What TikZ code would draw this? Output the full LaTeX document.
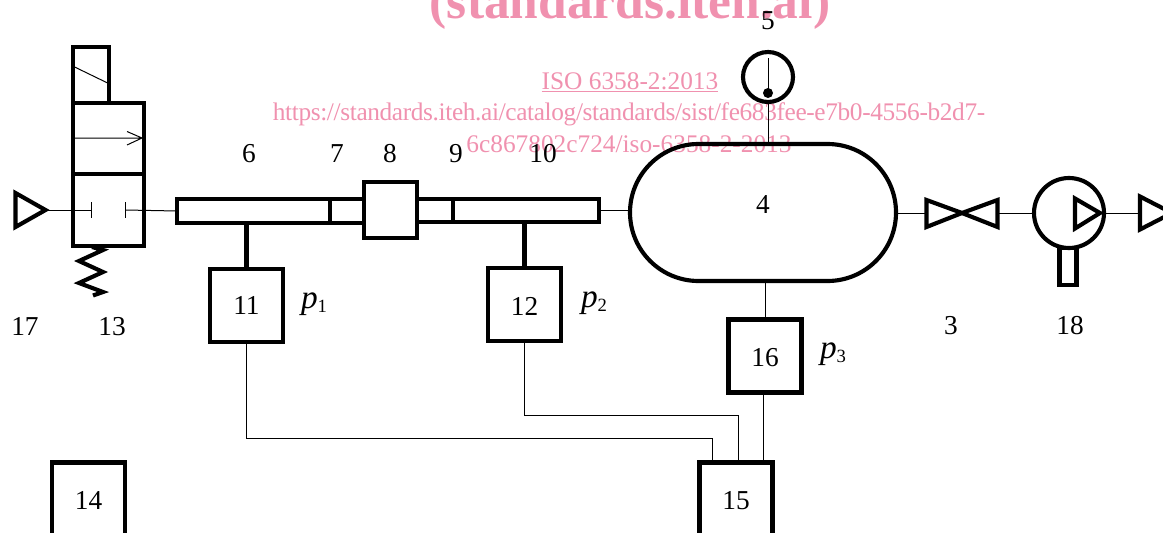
\documentclass[tikz,border=0pt]{standalone}
\usepackage{fontspec}
\usetikzlibrary{shapes.misc}
\setmainfont{Liberation Serif}
\newfontfamily\wmfont{Liberation Serif}
\newfontfamily\wmtight[LetterSpace=-1.45]{Liberation Serif}
\definecolor{wmpink}{RGB}{240,145,175}
\newcommand{\numat}[2]{\raisebox{-#1pt}[0pt][0pt]{#2}}
\newcommand{\plabel}[1]{{\fontsize{25}{25}\selectfont\itshape p}\raisebox{-3.5pt}{\fontsize{14}{14}\selectfont #1}}
\tikzset{
  heavy/.style={line width=3.1pt,line join=miter},
  thin line/.style={line width=0.75pt},
  numbox/.style={draw,heavy,rectangle,inner sep=0pt,outer sep=0pt,minimum width=73*0.75pt,minimum height=73*0.75pt,font=\fontsize{20.5}{21}\selectfont},
  tube/.style={draw,heavy,rectangle,inner sep=0pt,outer sep=0pt},
  lbl/.style={anchor=base,inner sep=0pt,font=\fontsize{20.5}{21}\selectfont},
  plbl/.style={anchor=base,inner sep=0pt},
  wm/.style={anchor=base,inner sep=0pt,text=wmpink,font=\wmfont\fontsize{19}{19}\selectfont},
}
\begin{document}
\begin{tikzpicture}[x=0.75pt,y=-0.75pt]
\useasboundingbox (0,0) rectangle (1163,532);
\clip (0,0) rectangle (1163,532);
% watermark
\node[wm,font=\wmfont\bfseries\fontsize{38.6}{38.6}\selectfont] (wmA) at (630,18) {(standards.iteh.ai)};
\node[wm] (wmB) at (630,89) {\underline{ISO 6358-2:2013}};
\node[wm,font=\wmtight\fontsize{19}{19}\selectfont] (wmC) at (629,120.5) {https://standards.iteh.ai/catalog/standards/sist/fe683fee-e7b0-4556-b2d7-};
\node[wm] (wmD) at (629,152.5) {6c867802c724/iso-6358-2-2013};
% solenoid valve
\node[tube,minimum width=36*0.75pt,minimum height=56*0.75pt] (sol) at (91,75) {};
\node[tube,minimum width=71*0.75pt,minimum height=71*0.75pt] (vup) at (108.5,138.5) {};
\node[tube,minimum width=71*0.75pt,minimum height=72*0.75pt] (vlo) at (108.5,210) {};
\draw[thin line] (74,66.7) -- (107,82.7);
\draw[thin line] (74,138) -- (142,138) (127,131.5) -- (142,138) -- (127,145);
\draw[heavy] (92,247) -- (103,250) -- (79,261) -- (103,272) -- (79,283) -- (103,292) -- (93,295.5);
% inlet
\draw[heavy] (15.5,193) -- (15.5,227) -- (45.5,210) -- cycle;
\coordinate (inL) at (48,210);
\coordinate (stopL) at (91,210);
\coordinate (stopR) at (125.5,210);
\draw[thin line] (inL) -- (stopL) (91,202) -- (91,218);
\draw[thin line] (125.5,202) -- (125.5,218);
% tubes and silencer
\node[tube,minimum width=187*0.75pt,minimum height=24*0.75pt] (t1) at (270.5,211) {};
\node[tube,minimum width=53*0.75pt,minimum height=56*0.75pt] (b8) at (390.5,210) {};
\node[tube,minimum width=182*0.75pt,minimum height=23*0.75pt] (t2) at (508,210.5) {};
\draw[heavy] (330,199) -- (330,223);
\draw[heavy] (453,199) -- (453,222);
\draw[thin line] (stopR) -- (t1.west);
% tank and gauge
\node[draw,heavy,rounded rectangle,rounded rectangle arc length=180,inner sep=0pt,outer sep=0pt,minimum width=266*0.75pt,minimum height=137*0.75pt,font=\fontsize{20.5}{21}\selectfont] (tank) at (763,212.5) {\numat{1.1}{4}};
\draw[thin line] (t2.east) -- (tank.west |- t2.east);
\node[draw,heavy,circle,inner sep=0pt,outer sep=0pt,minimum size=50*0.75pt] (gauge) at (768,77) {};
\draw[thin line] (768,58) -- (768,93);
\fill (768,93) circle[radius=5];
\draw[thin line] (gauge.south) -- (gauge.south |- tank.north);
% boxes
\node[numbox] (b11) at (246.5,305.5) {\numat{6.75}{11}};
\node[numbox] (b12) at (524.5,304.5) {\numat{8.6}{12}};
\node[numbox] (b16) at (765,356) {\numat{7.5}{16}};
\node[numbox] (b15) at (736,499) {\numat{7.5}{15}};
\node[numbox] (b14) at (88.5,499) {\numat{7.5}{14}};
\draw[heavy] (b11.north) -- (b11.north |- t1.south);
\draw[heavy] (b12.north) -- (b12.north |- t2.south);
\draw[thin line] (tank.south) ++(2,0) -- (b16.north);
\coordinate (in15a) at (712,462.5);
\coordinate (in15b) at (738,462.5);
\coordinate (in15c) at (763,462.5);
\draw[thin line] (b11.south) |- (712,438) -- (in15a);
\draw[thin line] (b12.south) |- (738,415) -- (in15b);
\draw[thin line] (in15c |- b16.south) -- (in15c);
% throttle valve
\coordinate (vtip) at (962,213);
\draw[heavy] (926.5,200) -- (926.5,227) -- (vtip) -- cycle;
\draw[heavy] (997.5,200) -- (997.5,227) -- (vtip) -- cycle;
\coordinate (tankR) at (896,213);
\coordinate (vL) at (925,213);
\coordinate (vR) at (999,213);
\draw[thin line] (tankR) -- (vL);
% pump
\node[draw,heavy,circle,inner sep=0pt,outer sep=0pt,minimum size=70*0.75pt] (pump) at (1069,213) {};
\draw[heavy] (1075,198.5) -- (1075,228.5) -- (1100,213) -- cycle;
\node[tube,minimum width=17*0.75pt,minimum height=37*0.75pt] (motor) at (1068,266.5) {};
\draw[thin line] (vR) -- (pump.west);
\draw[heavy] (1140,196.5) -- (1140,229.5) -- (1172,213) -- cycle;
\coordinate (outR) at (1140,213);
\draw[thin line] (pump.east) -- (outR);
% labels
\node[lbl] (n6) at (249,162) {6};
\node[lbl] (n7) at (337,162) {7};
\node[lbl] (n8) at (390,162) {8};
\node[lbl] (n9) at (456,162) {9};
\node[lbl] (n10) at (543,162) {10};
\node[lbl] (n5) at (768,29) {5};
\node[lbl] (n17) at (25,335) {17};
\node[lbl] (n13) at (112,335) {13};
\node[lbl] (n3) at (951,334) {3};
\node[lbl] (n18) at (1070,334) {18};
\node[plbl] (p1) at (314,308) {\plabel{1}};
\node[plbl] (p2) at (594,307) {\plabel{2}};
\node[plbl] (p3) at (833,358) {\plabel{3}};
\end{tikzpicture}
\end{document}
